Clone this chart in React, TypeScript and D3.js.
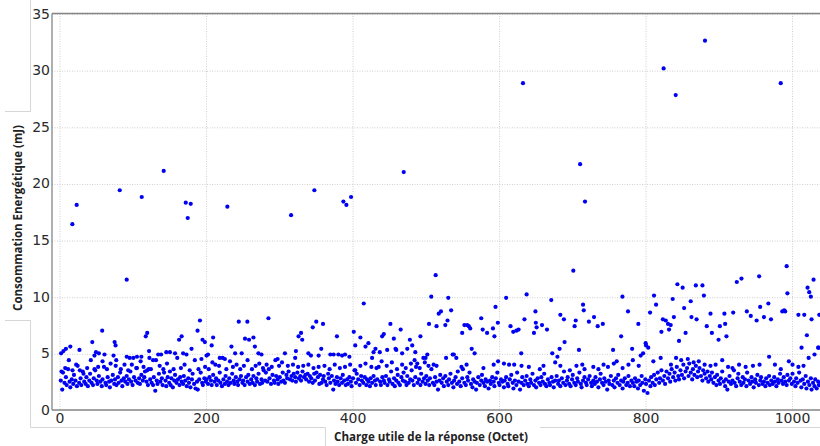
import * as d3 from "d3";

// tick values shown on the axes
const xTicks = [0, 200, 400, 600, 800, 1000];
const yTicks = [0, 5, 10, 15, 20, 25, 30, 35];

// isolated high readings
const outliers: [number, number][] = [
  [16.8, 16.4], [22.7, 18.1], [81.5, 19.4], [91, 11.5], [111.5, 18.8], [141.5, 21.1],
  [171.6, 18.3], [174.3, 16.95], [178.4, 18.2], [228.4, 17.95], [315.4, 17.2],
  [347.2, 19.4], [386.8, 18.4], [390.9, 18.1], [397.3, 18.8], [469.2, 21.0],
  [632, 28.85], [710, 21.7], [716.7, 18.4], [824, 30.15], [840.5, 27.8],
  [880.5, 32.6], [983.9, 28.85],
];

// upper scatter, payload < 520
const upperLeft: [number, number][] = [
  [1.4, 5.0], [4.6, 5.2], [8, 5.4], [14, 5.6], [26.5, 5.3], [44, 6.0], [47, 4.8], [49, 5.1],
  [53, 5.0], [57.5, 7.0], [60.7, 4.9], [73, 4.8], [74.5, 6.0], [75.8, 5.7], [76.7, 4.4],
  [91, 4.7], [95, 4.6], [100, 4.6], [105, 4.7], [111, 4.7], [117, 6.5], [119, 6.8],
  [121.5, 5.2], [122, 4.6], [127, 4.4], [134, 4.9], [138, 4.9], [145, 5.1], [150, 5.1],
  [157, 5.0], [162.5, 6.2], [166, 6.5], [168, 5.0], [172.6, 4.9], [179.5, 5.4], [187.7, 7.0],
  [191, 7.9], [194.5, 6.2], [197.7, 6.0], [200, 4.8], [202, 4.9], [207, 5.7], [209, 6.4],
  [218, 4.6], [225, 4.5], [234, 5.6], [239, 5.0], [244, 7.8], [248, 5.0], [252.5, 6.3],
  [255.7, 7.8], [258, 6.2], [264, 6.4], [266, 5.6], [270.8, 5.0], [275, 4.9], [284.5, 8.1],
  [297, 4.5], [307, 5.0], [321, 4.6], [322, 5.2], [325.6, 6.5], [329, 6.8], [330.6, 6.2],
  [339, 5.0], [342.5, 4.8], [345, 7.3], [349.8, 7.8], [353, 4.8], [356.6, 5.4], [359, 7.6],
  [369, 4.9], [373.5, 4.9], [378, 6.5], [380, 4.9], [385, 4.8], [389, 4.9], [395, 4.7],
  [401, 6.9], [403, 5.7], [410, 6.4], [414.6, 9.4], [417, 5.6], [421, 5.9], [426, 4.6],
  [428, 5.1], [430.6, 5.4], [436.5, 5.1], [439.7, 6.5], [442, 6.7], [446.6, 5.3], [451, 7.6],
  [455.7, 6.3], [458, 5.4], [459, 5.3], [465, 7.1], [467, 5.0], [474, 5.4], [477.6, 6.2],
  [480.8, 5.7], [485, 5.1], [487.7, 4.1], [492, 6.5], [499, 4.6], [501.4, 4.9], [503.7, 7.6],
  [506.8, 10.0], [512.8, 11.9], [514, 7.4], [517, 8.5],
];

// upper scatter, payload >= 520
const upperRight: [number, number][] = [
  [520, 8.7], [526, 7.5], [529, 7.9], [530, 9.9], [533.9, 8.8], [537.6, 4.9], [541, 4.6],
  [549, 6.8], [552, 7.5], [555.8, 7.5], [558, 7.4], [560, 7.2], [575, 8.1], [577, 7.1],
  [583, 6.8], [591, 7.2], [593, 6.5], [594.5, 9.1], [597.7, 7.7], [609, 9.9], [615, 7.4],
  [618.7, 6.9], [623, 7.0], [626, 7.1], [629.6, 5.0], [634, 8.0], [637, 10.2], [647, 6.8],
  [649, 8.7], [649.5, 7.7], [650.6, 7.3], [658, 7.5], [664.8, 7.1], [670.6, 9.7], [682, 5.4],
  [683, 8.4], [687.9, 8.0], [688.8, 6.0], [700.7, 12.3], [702.5, 7.4], [704, 7.9], [708.4, 5.3],
  [714, 9.3], [715, 8.8], [722, 7.8], [729, 8.2], [734, 7.4], [741, 7.6], [755, 5.3],
  [766, 6.5], [767.8, 10.0], [775.4, 8.7], [781, 5.4], [789.5, 7.6], [792.7, 4.8], [799.5, 5.9],
  [805.5, 8.6], [810.9, 10.1], [813.7, 9.3], [821, 6.9], [823, 8.0], [826.9, 7.9], [830, 7.6],
  [831.4, 7.1], [833.7, 7.5], [836.4, 9.8], [838, 8.2], [842.8, 11.1], [845, 6.1], [850, 10.8],
  [852, 9.0], [854, 6.8], [861, 9.6], [862, 8.2], [868, 11.0], [869, 8.0], [877, 11.0],
  [879, 10.1], [882.9, 7.4], [888, 8.5], [889.9, 6.8], [899, 6.2], [900.8, 7.4], [907, 8.5],
  [908, 7.6], [909.8, 6.5], [919, 8.6], [923.9, 11.3], [930.3, 11.6], [937.6, 8.7], [943, 8.3],
  [951, 7.9], [954.4, 11.8], [955.8, 9.1], [961, 8.2], [967, 9.4], [970.6, 8.0], [986, 8.7],
  [988.6, 8.8], [990, 8.7], [992, 12.7], [993, 10.3], [1008, 8.4], [1012.3, 5.5], [1016, 8.4],
  [1019.6, 6.6], [1020.5, 10.8], [1022.8, 10.4], [1025, 10.0], [1026, 8.0], [1028.7, 11.5],
  [1035.5, 5.5], [1036.5, 8.4],
];

// middle scatter (~3.5 - 5 mJ)
const middle: [number, number][] = [
  [2, 3.4], [7, 3.7], [12, 4.4], [17, 3.5], [22, 4.0], [27, 3.5], [32, 3.2], [37, 3.7], [42, 4.4],
  [47, 3.6], [52, 3.8], [58, 4.3], [64, 3.6], [69, 4.1], [76, 3.9], [83, 3.6], [88, 4.0], [93, 3.5],
  [98, 4.0], [105, 3.7], [110, 4.3], [114, 3.8], [119, 3.5], [124, 3.6], [131, 4.4], [136, 3.9],
  [141, 3.6], [146, 4.1], [150, 3.4], [155, 3.6], [160, 4.6], [165, 3.7], [170, 4.0], [177, 3.5],
  [184, 4.4], [189, 3.6], [193, 4.5], [198, 3.8], [203, 3.6], [208, 4.2], [212, 4.0], [217, 3.9],
  [222, 4.6], [227, 3.6], [232, 4.3], [236, 3.8], [241, 4.0], [246, 3.6], [251, 3.9], [256, 4.4],
  [262, 3.6], [267, 3.9], [272, 4.1], [277, 3.7], [282, 4.0], [289, 3.8], [294, 4.4], [299, 3.9],
  [303, 4.2], [311, 3.9], [318, 4.0], [325, 3.8], [332, 3.9], [339, 4.0], [346, 3.7], [353, 3.8],
  [361, 3.9], [368, 3.6], [375, 4.0], [382, 3.7], [389, 3.8], [396, 4.0], [403, 3.5], [410, 3.9],
  [417, 4.1], [425, 3.8], [432, 3.7], [439, 4.3], [446, 3.9], [453, 4.2], [460, 3.6], [467, 4.0],
  [472, 3.7], [479, 4.1], [484, 4.4], [491, 3.7], [496, 4.6],
  [498, 4.2], [503, 3.9], [510, 4.0], [514, 3.9], [527, 4.6], [536, 4.9], [548, 3.8], [555, 4.0],
  [562, 5.4], [566, 5.0], [578, 3.7], [592, 4.0], [598, 4.3], [606, 4.1], [613, 4.0], [620, 4.0],
  [630, 3.9], [640, 3.8], [655, 3.6], [660, 3.9], [672, 5.0], [676, 4.2], [679, 4.7], [683, 3.9],
  [696, 3.5], [705, 3.9], [713, 4.0], [716, 3.6], [728, 3.8], [735, 3.6], [742, 4.0], [748, 3.8],
  [756, 4.1], [760, 4.3], [768, 3.7], [776, 4.0], [782, 4.4], [790, 3.9], [796, 5.0], [800, 5.7],
  [803, 5.5], [810, 4.3], [820, 4.6], [834, 4.0], [841, 4.6], [848, 4.4], [857, 4.5], [865, 4.2],
  [872, 4.3], [880, 4.0], [888, 3.9], [895, 4.0], [904, 4.4], [912, 3.8], [918, 3.7], [927, 4.0],
  [936, 3.8], [946, 3.9], [955, 4.0], [968, 4.7], [976, 4.0], [984, 3.6], [995, 4.3], [1000, 4.0],
  [1008, 3.8], [1015, 3.9], [1022, 4.6], [1030, 4.9], [1035, 5.5],
];

// dense lower band, four payload ranges
const lowA: [number, number][] = [
  [1, 2.6], [3, 1.8], [4, 3.3], [6, 2.4], [8, 2.9], [9, 2.2], [11, 3.6], [13, 2.5], [14, 2.0], [16, 2.7],
  [18, 2.3], [19, 3.1], [21, 2.6], [23, 2.1], [24, 3.9], [26, 2.4], [28, 2.8], [29, 2.2], [31, 3.4],
  [33, 2.5], [35, 2.3], [36, 2.9], [38, 2.1], [40, 2.6], [41, 3.2], [43, 2.4], [45, 2.2], [46, 2.8],
  [48, 3.5], [50, 2.6], [51, 2.3], [53, 3.0], [55, 2.5], [57, 2.1], [58, 2.7], [60, 3.8], [62, 2.4],
  [63, 2.2], [65, 2.9], [67, 2.5], [68, 2.0], [70, 2.6], [72, 3.1], [74, 2.3], [75, 2.7], [77, 2.2],
  [79, 2.9], [80, 2.4], [82, 3.3], [84, 2.6], [85, 2.1], [87, 2.8], [89, 2.5], [91, 3.0], [92, 2.3],
  [94, 2.7], [96, 3.4], [97, 2.5], [99, 2.2], [101, 2.9], [103, 2.6], [104, 3.7], [106, 2.4], [108, 2.8],
  [109, 2.3], [111, 3.1], [113, 2.6], [115, 2.9], [116, 3.4], [118, 2.5], [120, 2.2], [121, 3.6],
  [123, 2.7], [125, 2.4], [127, 2.2], [128, 2.9], [130, 1.7], [132, 2.6], [133, 2.3], [135, 3.2],
  [137, 2.5], [139, 2.8], [140, 2.2], [142, 3.3], [144, 2.6], [145, 2.1], [147, 2.9], [149, 2.4],
  [151, 2.2], [152, 2.8], [154, 2.0], [156, 2.6], [157, 3.1], [159, 2.4], [161, 2.7], [163, 2.2],
  [164, 2.9], [166, 2.5], [168, 2.3], [169, 3.0], [171, 2.6], [173, 2.1], [175, 2.8], [176, 2.4],
  [178, 2.0], [180, 2.7], [181, 3.2], [183, 2.3], [185, 1.9], [187, 2.5], [188, 1.8], [190, 2.7],
  [192, 3.3], [194, 2.4], [195, 2.2], [197, 2.8], [199, 2.5], [200, 2.7], [202, 2.3], [204, 2.9],
  [206, 2.6], [207, 2.2], [209, 3.1], [211, 2.5], [213, 2.8], [214, 2.2], [216, 2.6], [218, 3.3],
  [219, 2.4], [221, 2.1], [223, 2.7], [225, 2.3], [226, 3.0], [228, 2.5], [230, 2.2], [231, 2.8],
  [233, 2.4], [235, 3.2], [237, 2.6], [238, 2.3], [240, 2.9], [242, 2.5], [243, 2.2], [245, 2.7],
  [247, 3.0], [249, 2.4], [250, 2.6], [252, 2.2], [254, 2.9], [256, 2.5], [257, 3.1], [259, 2.3],
];

const lowB: [number, number][] = [
  [261, 2.7], [263, 2.4], [264, 3.0], [266, 2.2], [268, 2.8], [269, 2.5], [271, 3.2], [273, 2.3],
  [275, 2.7], [276, 2.4], [278, 3.5], [280, 2.6], [281, 3.3], [283, 2.5], [285, 3.6], [286, 2.8],
  [288, 2.3], [290, 3.1], [292, 2.6], [293, 2.4], [295, 3.0], [297, 2.7], [298, 2.3], [300, 2.9],
  [302, 2.5], [304, 3.3], [305, 2.6], [307, 2.4], [309, 3.1], [310, 2.8], [312, 3.4], [314, 2.7],
  [316, 3.0], [317, 2.6], [319, 3.2], [321, 2.9], [322, 2.5], [324, 3.3], [326, 2.8], [328, 3.0],
  [329, 2.6], [331, 3.4], [333, 2.9], [335, 3.1], [336, 2.7], [338, 3.2], [340, 2.5], [341, 3.0],
  [343, 2.8], [345, 2.4], [347, 3.2], [348, 2.6], [350, 3.3], [352, 2.9], [354, 2.3], [355, 3.1],
  [357, 2.4], [359, 2.7], [360, 3.0], [362, 2.5], [364, 2.2], [366, 3.2], [367, 2.8], [369, 2.4],
  [371, 3.0], [373, 1.8], [374, 2.6], [376, 2.3], [378, 2.9], [379, 2.5], [381, 2.2], [383, 2.8],
  [385, 2.4], [386, 3.1], [388, 2.6], [390, 2.2], [392, 2.7], [393, 2.3], [395, 2.9], [397, 2.5],
  [398, 2.1], [400, 2.8], [402, 3.5], [404, 2.4], [405, 3.2], [407, 2.7], [409, 2.2], [411, 3.0],
  [412, 2.6], [414, 2.4], [416, 2.9], [418, 2.2], [419, 2.7], [421, 2.5], [423, 2.1], [424, 2.8],
  [426, 2.4], [428, 3.0], [430, 2.6], [431, 2.2], [433, 2.7], [435, 3.8], [437, 2.5], [438, 2.2],
  [440, 2.9], [442, 2.6], [443, 2.4], [445, 3.0], [447, 2.2], [449, 2.7], [450, 2.5], [452, 3.4],
  [454, 2.3], [456, 2.8], [457, 2.1], [459, 2.6], [461, 3.1], [462, 2.4], [464, 2.2], [466, 2.9],
  [468, 2.6], [469, 3.3], [471, 2.5], [473, 2.2], [474, 3.0], [476, 2.4], [478, 2.7], [480, 3.5],
  [481, 2.6], [483, 2.2], [485, 2.9], [486, 3.8], [488, 2.4], [490, 2.7], [492, 2.2], [493, 3.2],
  [495, 2.5], [497, 2.8], [499, 2.3], [500, 3.0], [502, 2.6], [504, 2.2], [505, 2.8], [507, 3.6],
  [509, 2.4], [511, 2.2], [512, 2.9], [514, 2.5], [516, 1.8], [518, 2.6], [519, 3.1],
];

const lowC: [number, number][] = [
  [521, 2.4], [523, 2.8], [524, 2.1], [526, 3.0], [528, 2.5], [530, 2.2], [531, 2.7], [533, 3.2],
  [535, 2.4], [537, 2.0], [538, 2.6], [540, 2.9], [542, 2.3], [543, 3.4], [545, 2.5], [547, 2.1],
  [549, 2.8], [550, 3.6], [552, 2.4], [554, 2.2], [556, 2.9], [557, 2.6], [559, 3.3], [561, 2.3],
  [563, 2.0], [564, 2.7], [566, 2.5], [568, 1.8], [569, 2.4], [571, 2.9], [573, 2.2], [575, 2.6],
  [576, 3.1], [578, 2.4], [580, 2.1], [581, 2.7], [583, 2.5], [585, 1.9], [587, 2.6], [588, 2.3],
  [590, 2.9], [592, 2.5], [593, 2.1], [595, 2.8], [597, 3.3], [599, 2.4], [600, 2.2], [602, 2.7],
  [604, 2.5], [606, 2.0], [607, 2.6], [609, 2.9], [611, 2.3], [612, 2.1], [614, 2.7], [616, 3.1],
  [618, 2.4], [619, 1.9], [621, 2.6], [623, 2.2], [624, 3.3], [626, 2.5], [628, 1.8], [630, 2.4],
  [631, 2.9], [633, 2.2], [635, 2.6], [637, 3.0], [638, 2.3], [640, 2.1], [642, 2.7], [643, 2.4],
  [645, 3.2], [647, 2.2], [649, 2.6], [650, 2.0], [652, 2.8], [654, 2.4], [656, 2.2], [657, 2.9],
  [659, 2.5], [661, 3.2], [662, 2.3], [664, 2.1], [666, 2.7], [668, 2.4], [669, 2.2], [671, 2.9],
  [673, 2.5], [674, 2.0], [676, 2.6], [678, 3.0], [680, 2.3], [681, 2.6], [683, 2.1], [685, 2.8],
  [687, 2.4], [688, 3.4], [690, 2.2], [692, 2.6], [693, 2.9], [695, 2.3], [697, 2.1], [699, 2.7],
  [700, 3.1], [702, 2.4], [704, 2.2], [706, 2.8], [707, 2.5], [709, 3.3], [711, 2.3], [712, 2.0],
  [714, 2.6], [716, 2.9], [718, 2.4], [719, 2.2], [721, 2.7], [723, 3.0], [725, 2.4], [726, 2.1],
  [728, 2.6], [730, 2.3], [731, 2.9], [733, 2.5], [735, 2.0], [737, 2.7], [738, 3.2], [740, 2.4],
  [742, 2.2], [743, 2.8], [745, 2.5], [747, 1.8], [749, 2.6], [750, 2.3], [752, 3.0], [754, 2.2],
  [756, 2.6], [757, 2.0], [759, 2.8], [761, 2.4], [762, 3.1], [764, 2.2], [766, 2.6], [768, 1.9],
  [769, 2.5], [771, 2.8], [773, 2.2], [775, 2.4], [776, 3.0], [778, 2.1], [780, 2.6],
];

const lowD: [number, number][] = [
  [782, 2.4], [784, 2.1], [785, 2.8], [787, 2.5], [789, 1.9], [790, 2.6], [792, 2.2], [794, 3.0],
  [795, 2.4], [797, 1.7], [799, 2.7], [800, 2.3], [802, 1.5], [804, 2.6], [806, 2.1], [807, 2.9],
  [809, 2.4], [811, 3.1], [812, 2.2], [814, 2.7], [816, 3.3], [818, 2.4], [819, 2.8], [821, 3.5],
  [823, 2.6], [825, 3.0], [826, 2.3], [828, 3.4], [830, 2.8], [832, 3.2], [833, 2.5], [835, 3.6],
  [837, 2.9], [839, 3.3], [840, 2.6], [842, 3.8], [844, 3.0], [845, 2.7], [847, 3.5], [849, 3.1],
  [851, 4.0], [852, 2.8], [854, 3.4], [856, 3.7], [858, 3.0], [859, 4.1], [861, 3.3], [863, 2.7],
  [864, 3.6], [866, 3.1], [868, 3.9], [870, 2.9], [871, 3.4], [873, 3.7], [875, 3.0], [877, 2.6],
  [878, 3.5], [880, 3.2], [882, 2.8], [884, 3.4], [885, 2.5], [887, 3.0], [889, 2.7], [890, 3.3],
  [892, 2.4], [894, 2.9], [896, 2.2], [897, 3.1], [899, 2.6], [901, 2.3], [902, 2.8], [904, 3.4],
  [906, 2.5], [908, 2.1], [909, 2.7], [911, 1.8], [913, 2.5], [914, 3.0], [916, 2.3], [918, 2.6],
  [920, 3.5], [921, 2.4], [923, 2.1], [925, 2.8], [926, 3.2], [928, 2.5], [930, 2.2], [932, 2.9],
  [933, 2.4], [935, 2.7], [937, 2.1], [938, 3.3], [940, 2.6], [942, 2.3], [944, 2.9], [945, 2.5],
  [947, 2.0], [949, 2.7], [950, 2.4], [952, 3.1], [954, 2.2], [956, 2.6], [957, 2.9], [959, 2.3],
  [961, 2.5], [963, 2.1], [964, 2.8], [966, 2.4], [968, 3.0], [969, 2.2], [971, 2.6], [973, 2.3],
  [975, 2.9], [976, 2.5], [978, 2.1], [980, 2.7], [981, 2.4], [983, 3.2], [985, 2.6], [987, 2.3],
  [988, 2.9], [990, 2.5], [992, 2.2], [993, 3.1], [995, 2.6], [997, 2.8], [999, 2.3], [1000, 3.2],
  [1002, 2.5], [1004, 2.1], [1005, 2.8], [1007, 2.4], [1009, 3.3], [1011, 2.6], [1012, 2.0],
  [1014, 2.7], [1016, 2.3], [1018, 3.0], [1019, 1.9], [1021, 2.5], [1023, 2.2], [1025, 2.8],
  [1026, 1.8], [1028, 2.4], [1030, 2.1], [1031, 2.7], [1033, 1.9], [1035, 2.5], [1036, 2.2],
];

const W = 820;
const H = 446;
const plot = { left: 52, right: 820, top: 13.5, bottom: 410 };

export default function App() {
  const x = d3.scaleLinear().domain([-11, 1037.5]).range([plot.left, plot.right]);
  const y = d3.scaleLinear().domain([0, 35]).range([plot.bottom, plot.top]);

  const points = [...lowA, ...lowB, ...lowC, ...lowD, ...middle, ...upperLeft, ...upperRight, ...outliers];
  const frame = "#d6d6d6";

  return (
    <svg
      width={W}
      height={H}
      style={{ position: "absolute", left: 0, top: 0, background: "#fff" }}
    >
      {/* screenshot frame remnants */}
      <g stroke={frame} strokeWidth={1} fill="none">
        <path d="M30.5,0V111.5H5" />
        <path d="M5,320.5H30.5V427.5H325.5V446" />
        <path d="M540,427.5H820" />
      </g>

      {/* grid */}
      <g stroke="#cfcfcf" strokeWidth={1} strokeDasharray="1,1.5">
        {xTicks.map((t) => (
          <line key={"gx" + t} x1={x(t)} x2={x(t)} y1={plot.top} y2={plot.bottom} />
        ))}
        {yTicks.slice(1).map((t) => (
          <line key={"gy" + t} x1={plot.left} x2={plot.right} y1={y(t) + 1} y2={y(t) + 1} />
        ))}
      </g>

      {/* points */}
      <g fill="#0000f2">
        {points.map((d, i) => (
          <circle key={i} cx={x(d[0])} cy={y(d[1])} r={2.1} />
        ))}
      </g>

      {/* spines */}
      <g stroke="#858585" strokeWidth={1.3} fill="none">
        <line x1={plot.left} x2={plot.left} y1={plot.top} y2={plot.bottom} />
        <line x1={plot.left} x2={plot.right} y1={plot.top} y2={plot.top} />
        <line x1={plot.left} x2={plot.right} y1={plot.bottom} y2={plot.bottom} />
      </g>

      {/* tick labels */}
      <g fontFamily="DejaVu Sans" fontSize={14} fill="#2a2a2a">
        {yTicks.map((t) => (
          <text key={"ty" + t} x={plot.left - 2} y={y(t)} dy="0.36em" textAnchor="end">
            {t}
          </text>
        ))}
        {xTicks.map((t) => (
          <text key={"tx" + t} x={x(t)} y={plot.bottom + 13} textAnchor="middle">
            {t}
          </text>
        ))}
      </g>

      {/* axis titles */}
      <text
        x={431}
        y={441}
        textAnchor="middle"
        fontFamily="Open Sans"
        fontWeight={700}
        fontSize={11.6}
        fill="#222"
      >
        Charge utile de la réponse (Octet)
      </text>
      <text
        transform="translate(22,218) rotate(-90)"
        textAnchor="middle"
        fontFamily="Open Sans"
        fontWeight={700}
        fontSize={11.5}
        fill="#222"
      >
        Consommation Energétique (mJ)
      </text>
    </svg>
  );
}
